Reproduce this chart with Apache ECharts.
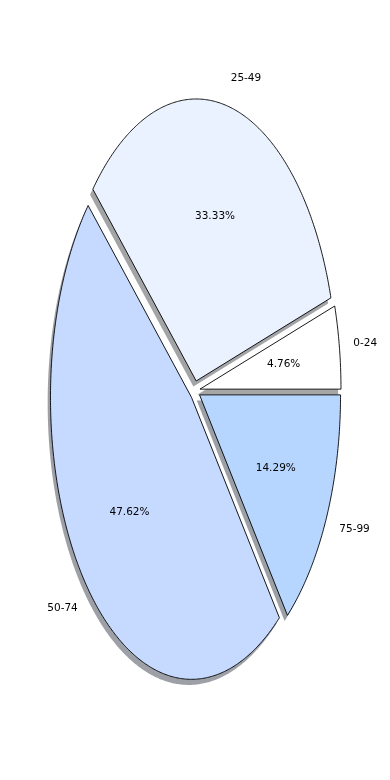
<!DOCTYPE html>
<html>
<head>
<meta charset="utf-8">
<script src="https://cdn.jsdelivr.net/npm/echarts@6/dist/echarts.min.js"></script>
<style>html,body{margin:0;padding:0;background:#fff;}#c{width:390px;height:780px;}</style>
</head>
<body>
<div id="c"></div>
<script>
const categories = ['0-24', '25-49', '50-74', '75-99'];
const values = [1, 7, 10, 3];

const sliceColors = ['#ffffff', '#ebf2ff', '#c6d9ff', '#b6d6ff'];
const EXPLODE = 0.035;
const SHADOW_DX = -0.02, SHADOW_DY = -0.02;
const PCT_DIST = 0.6, LABEL_DIST = 1.1;
const FONT = 10.5;

const total = values.reduce((a, b) => a + b, 0);
const starts = [];
{ let acc = 0; values.forEach(v => { starts.push(acc); acc += v; }); }

function geom(i) {
  const t1 = starts[i] / total * 2 * Math.PI;
  const t2 = (starts[i] + values[i]) / total * 2 * Math.PI;
  const tm = (t1 + t2) / 2;
  const ox = EXPLODE * Math.cos(tm), oy = EXPLODE * Math.sin(tm);
  return { t1, t2, tm, ox, oy };
}
function wedgePts(api, i, dx, dy) {
  const g = geom(i);
  const cx = g.ox + dx, cy = g.oy + dy;
  const pts = [api.coord([cx, cy])];
  const n = Math.max(4, Math.ceil((g.t2 - g.t1) / (Math.PI / 360)));
  for (let k = 0; k <= n; k++) {
    const t = g.t1 + (g.t2 - g.t1) * k / n;
    pts.push(api.coord([cx + Math.cos(t), cy + Math.sin(t)]));
  }
  return pts;
}
function hexToRgb(h) {
  return [parseInt(h.slice(1, 3), 16), parseInt(h.slice(3, 5), 16), parseInt(h.slice(5, 7), 16)];
}

const data = values.map((v, i) => ({ name: categories[i], value: [i, v] }));

const chart = echarts.init(document.getElementById('c'), null, { renderer: 'canvas' });
chart.setOption({
  backgroundColor: '#ffffff',
  animation: false,
  grid: { left: 11.8, top: 24, width: 366.6, height: 733.2 },
  xAxis: { type: 'value', min: -1.3, max: 1.3, show: false },
  yAxis: { type: 'value', min: -1.3, max: 1.3, show: false },
  series: [
    {
      type: 'custom', z: 1, silent: true,
      data: data,
      encode: { x: 0, y: 1 },
      renderItem: function (params, api) {
        const i = params.dataIndex;
        const c = hexToRgb(sliceColors[i]).map(x => Math.round(x * 0.3));
        return {
          type: 'polygon',
          shape: { points: wedgePts(api, i, SHADOW_DX, SHADOW_DY) },
          style: { fill: 'rgba(' + c.join(',') + ',0.5)', stroke: null }
        };
      }
    },
    {
      type: 'custom', z: 2, silent: true,
      data: data,
      encode: { x: 0, y: 1 },
      renderItem: function (params, api) {
        const i = params.dataIndex;
        const g = geom(i);
        const cm = Math.cos(g.tm), sm = Math.sin(g.tm);
        const pp = api.coord([g.ox + PCT_DIST * cm, g.oy + PCT_DIST * sm]);
        const lp = api.coord([g.ox + LABEL_DIST * cm, g.oy + LABEL_DIST * sm]);
        const pct = (api.value(1) / total * 100).toFixed(2) + '%';
        return {
          type: 'group',
          children: [
            {
              type: 'polygon',
              shape: { points: wedgePts(api, i, 0, 0) },
              style: { fill: sliceColors[i], stroke: '#000000', lineWidth: 0.9, lineJoin: 'miter' }
            },
            {
              type: 'text', x: pp[0], y: pp[1],
              style: { text: pct, fill: '#000', fontSize: FONT, fontFamily: 'DejaVu Sans', align: 'center', verticalAlign: 'middle' }
            },
            {
              type: 'text', x: lp[0], y: lp[1],
              style: { text: categories[i], fill: '#000', fontSize: FONT, fontFamily: 'DejaVu Sans', align: cm > 0 ? 'left' : 'right', verticalAlign: 'middle' }
            }
          ]
        };
      }
    }
  ]
});
</script>
</body>
</html>
